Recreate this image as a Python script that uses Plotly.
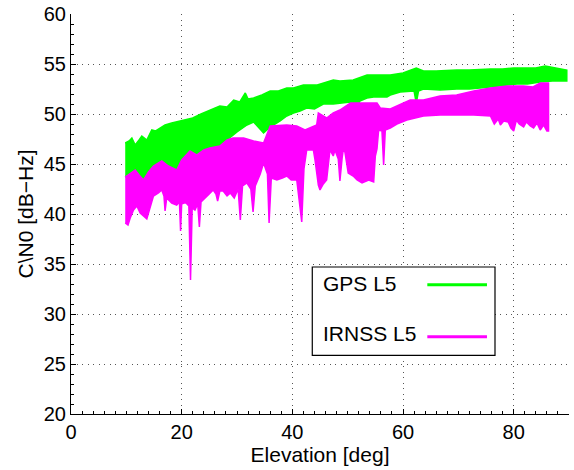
import plotly.graph_objects as go

# ---- GPS L5 band: upper and lower envelopes ----
gps_up_x = [9.8, 10.5, 11.0, 11.6, 12.3, 12.8, 13.7, 14.6, 15.3, 16.1, 17.0, 18.2, 19.0, 20.3,
            21.5, 22.0, 23.5, 25.1, 26.9, 28.2, 29.4, 30.5, 31.5, 32.0, 33.0, 34.5, 36.0, 37.5,
            39.0, 40.2, 42.0, 44.5, 45.6, 47.4, 48.6, 51.0, 53.5, 54.7, 57.7, 60.0, 62.4, 63.7,
            66.0, 69.7, 72.0, 75.8, 78.0, 80.0, 81.8, 84.0, 85.7, 87.5, 89.6]
gps_up_y = [47.1, 47.3, 47.6, 46.9, 47.4, 47.8, 47.4, 48.4, 48.3, 48.6, 48.9, 49.1, 49.2, 49.4,
            49.5, 49.6, 50.0, 50.4, 50.8, 50.7, 51.4, 51.2, 52.1, 51.5, 51.6, 51.9, 52.3, 52.3,
            52.6, 52.6, 52.9, 52.9, 53.1, 53.4, 53.3, 53.4, 53.9, 53.9, 53.9, 54.1, 54.6, 54.3,
            54.3, 54.4, 54.4, 54.5, 54.5, 54.6, 54.6, 54.6, 54.8, 54.6, 54.4]
gps_lo_x = [9.8, 10.3, 11.6, 12.3, 13.1, 14.0, 14.9, 16.4, 17.6, 19.1, 20.0, 21.5, 22.7, 24.0,
            25.1, 26.9, 28.2, 30.0, 31.8, 33.0, 34.8, 36.0, 37.8, 39.0, 40.2, 41.4, 42.6, 44.0,
            45.6, 47.4, 48.6, 50.5, 51.7, 52.2, 53.5, 54.7, 57.1, 57.7, 59.5, 62.0, 62.4, 62.8,
            63.7, 66.7, 69.7, 72.0, 75.8, 78.0, 80.6, 82.5, 84.8, 87.0, 89.6]
gps_lo_y = [43.7, 43.9, 44.4, 43.9, 43.4, 44.2, 44.8, 45.3, 44.8, 44.4, 45.4, 46.3, 45.9, 46.4,
            46.6, 46.8, 47.4, 48.2, 48.9, 49.2, 48.1, 48.7, 49.3, 49.8, 50.1, 50.3, 50.6, 50.5,
            51.0, 51.0, 51.1, 51.2, 50.6, 51.3, 51.6, 51.7, 51.7, 51.9, 52.2, 52.3, 51.1, 52.3,
            52.5, 52.4, 52.5, 52.5, 52.7, 52.8, 53.0, 53.0, 53.2, 53.3, 53.3]

# ---- IRNSS L5 band ----
irn_up_x = [9.8, 10.3, 11.6, 12.3, 13.1, 14.0, 14.9, 16.4, 17.6, 19.1, 20.0, 21.5, 22.7, 24.0,
            25.1, 26.9, 28.2, 29.3, 31.2, 33.0, 34.8, 36.0, 37.8, 39.0, 40.8, 42.3, 44.4, 44.7,
            46.2, 47.4, 48.6, 50.5, 52.6, 55.3, 55.9, 57.7, 60.1, 61.3, 63.7, 66.7, 69.7, 72.8,
            75.8, 78.8, 81.8, 83.5, 84.8, 86.3]
irn_up_y = [43.7, 43.9, 44.4, 43.9, 43.4, 44.2, 44.8, 45.3, 44.8, 44.4, 45.4, 46.3, 45.9, 46.4,
            46.6, 46.8, 47.4, 47.6, 47.6, 47.3, 47.1, 48.8, 48.9, 48.9, 48.8, 48.4, 48.9, 50.1,
            49.6, 50.1, 50.4, 51.1, 51.1, 51.1, 50.6, 50.5, 51.1, 51.4, 51.4, 51.8, 51.9, 52.3,
            52.6, 52.8, 52.8, 52.7, 53.1, 53.1]
irn_lo_x = [9.8, 10.3, 10.7, 11.3, 11.9, 12.5, 13.1, 13.7, 14.3, 14.9, 15.8, 16.4, 16.8, 17.0,
            17.3, 17.6, 18.2, 19.1, 19.6, 19.8, 20.0, 20.4, 20.8, 21.3, 21.6, 21.9, 22.4, 22.9,
            23.2, 23.5, 23.9, 24.8, 25.7, 26.2, 26.5, 26.9, 27.5, 28.2, 28.8, 29.5, 30.2, 30.6,
            31.0, 31.8, 32.5, 32.9, 33.3, 34.2, 34.8, 35.5, 35.8, 36.2, 37.2, 38.2, 39.0, 39.8,
            40.8, 41.7, 42.1, 42.6, 43.8, 44.1, 44.7, 45.0, 45.6, 46.2, 46.8, 47.4, 47.7, 48.3,
            48.6, 49.0, 49.2, 49.5, 50.1, 51.0, 51.7, 52.6, 53.8, 54.7, 55.0, 55.3, 55.6, 56.2,
            56.5, 56.8, 57.7, 58.9, 60.7, 63.7, 66.7, 69.7, 72.8, 75.8, 76.5, 77.2, 77.6, 78.2,
            79.0, 79.5, 80.0, 80.5, 81.0, 81.8, 82.3, 83.0, 83.6, 84.2, 84.8, 85.4, 86.0, 86.3]
irn_lo_y = [39.1, 38.9, 39.6, 40.4, 40.8, 40.1, 39.8, 39.5, 40.6, 41.8, 42.1, 42.4, 41.8, 40.3,
            41.6, 41.4, 41.1, 40.9, 41.2, 38.3, 41.0, 41.1, 41.1, 40.8, 33.4, 40.6, 40.4, 41.0,
            38.7, 41.2, 41.4, 41.9, 42.4, 42.0, 41.3, 42.3, 42.3, 41.8, 42.1, 41.6, 42.5, 39.4,
            42.8, 43.1, 42.5, 40.2, 42.8, 44.0, 45.1, 44.0, 39.1, 43.6, 43.4, 43.6, 43.8, 43.4,
            43.4, 39.2, 44.5, 46.4, 46.4, 45.4, 42.9, 42.4, 43.0, 43.4, 46.4, 45.8, 46.4, 45.5,
            43.3, 45.6, 46.4, 46.2, 44.1, 43.8, 43.4, 43.1, 43.4, 43.2, 45.8, 46.5, 48.4, 48.3,
            44.9, 48.4, 48.6, 49.0, 49.4, 49.8, 49.9, 49.9, 49.9, 49.8, 49.0, 49.5, 48.9, 49.3,
            49.2, 48.6, 48.3, 49.4, 49.0, 48.7, 49.2, 48.8, 48.6, 49.1, 48.4, 48.9, 48.3, 48.3]

series_names = ["GPS L5", "IRNSS L5"]
series_colors = ["#00FF00", "#FF00FF"]

x_ticks = [0, 20, 40, 60, 80]
y_ticks = [20, 25, 30, 35, 40, 45, 50, 55, 60]

FONT = "Liberation Sans, Arial, Helvetica, sans-serif"

fig = go.Figure()
bands = [(gps_up_x, gps_up_y, gps_lo_x, gps_lo_y), (irn_up_x, irn_up_y, irn_lo_x, irn_lo_y)]
for (ux, uy, lx, ly), name, col in zip(bands, series_names, series_colors):
    fig.add_trace(go.Scatter(
        x=ux + lx[::-1], y=uy + ly[::-1], mode="lines", fill="toself",
        fillcolor=col, line=dict(color=col, width=1.5), name=name,
        showlegend=False, hoverinfo="skip"))

axis_common = dict(
    showline=True, linecolor="black", linewidth=1, mirror=False,
    ticks="inside", ticklen=5, tickcolor="black", tickwidth=1,
    showgrid=True, gridcolor="#555555", gridwidth=1, griddash="1px,4.5px",
    zeroline=False, tickfont=dict(family=FONT, size=20, color="black"),
    ticklabeloverflow="allow",
)

fig.update_xaxes(range=[0, 90], tickvals=x_ticks, ticktext=[str(v) for v in x_ticks],
                 title=dict(text="Elevation [deg]", font=dict(family=FONT, size=21, color="black"),
                            standoff=2),
                 minor=dict(ticks="inside", ticklen=3, dtick=2, tickcolor="black", showgrid=False),
                 **axis_common)
fig.update_yaxes(range=[20, 60], tickvals=y_ticks, ticktext=[str(v) for v in y_ticks],
                 title=dict(text="C\\N0 [dB\u2212Hz]", font=dict(family=FONT, size=21, color="black"),
                            standoff=4),
                 minor=dict(ticks="inside", ticklen=3, dtick=1, tickcolor="black", showgrid=False),
                 **axis_common)

# ---- legend box drawn like the original (text left, line sample right) ----
shapes = [dict(type="rect", xref="paper", yref="paper", x0=0.4845, x1=0.8514, y0=0.1465, y1=0.3675,
               line=dict(color="black", width=1.2), fillcolor="white", layer="above")]
annotations = []
leg_y = [0.326, 0.201]
line_y = [0.3233, 0.1933]
for name, col, ty, ly in zip(series_names, series_colors, leg_y, line_y):
    annotations.append(dict(xref="paper", yref="paper", x=0.5014, y=ty, text=name, showarrow=False,
                            xanchor="left", yanchor="middle",
                            font=dict(family=FONT, size=21, color="black")))
    shapes.append(dict(type="line", xref="paper", yref="paper", x0=0.7155, x1=0.8353, y0=ly, y1=ly,
                       line=dict(color=col, width=3), layer="above"))

fig.update_layout(
    width=574, height=470, margin=dict(l=71, r=5, t=14, b=56, autoexpand=False),
    paper_bgcolor="white", plot_bgcolor="white",
    shapes=shapes, annotations=annotations, showlegend=False,
    font=dict(family=FONT, color="black"),
)

# remove the page's default body margin so the figure sits at the window's top-left corner
fig.write_html("out.html", config={"displayModeBar": False},
               post_script="document.body.style.margin='0';")
